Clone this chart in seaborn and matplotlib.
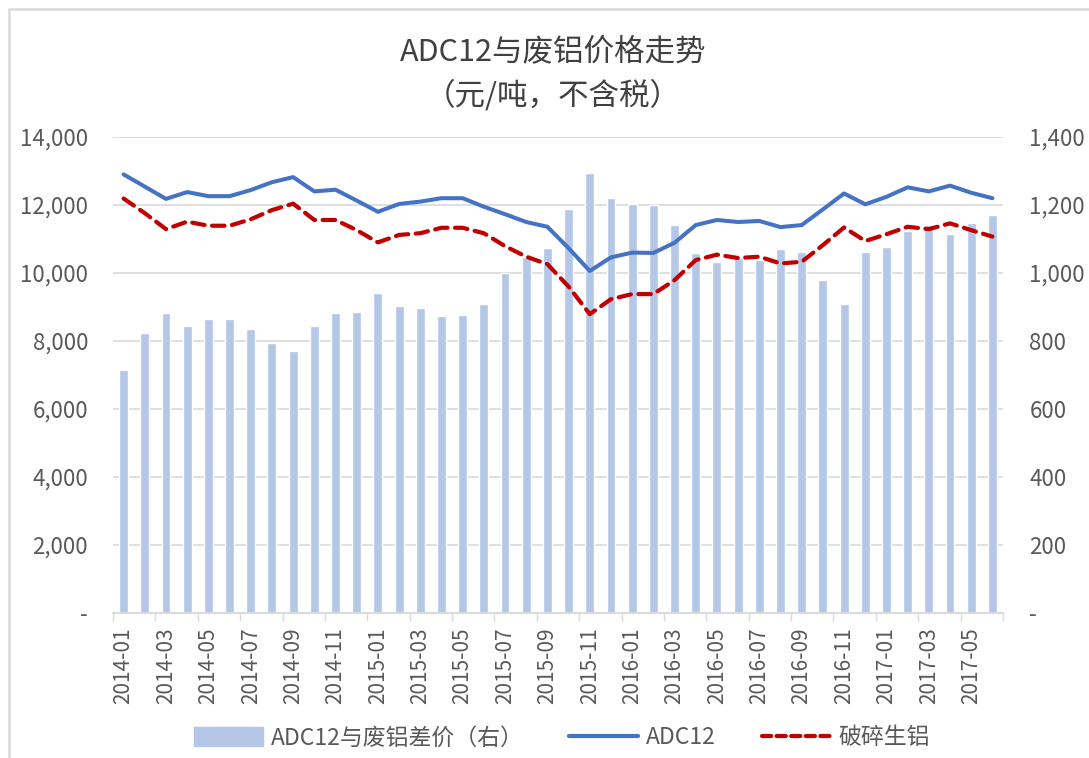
import numpy as np
import pandas as pd
import matplotlib
matplotlib.use("Agg")
import matplotlib.pyplot as plt
import matplotlib.patches as mpatches
from matplotlib.lines import Line2D
from matplotlib.ticker import FuncFormatter, FixedLocator
import seaborn as sns

# ---------------- data ----------------
months = [f"{y}-{m:02d}" for y in (2014, 2015, 2016, 2017) for m in range(1, 13)][:42]

spread = [715, 824, 881, 843, 866, 866, 835, 794, 771, 843, 881, 884,
          941, 904, 896, 873, 877, 908, 1001, 1048, 1073, 1187, 1293, 1221,
          1202, 1199, 1141, 1058, 1032, 1043, 1038, 1070, 1062, 979, 908, 1062,
          1077, 1123, 1141, 1116, 1146, 1172]

adc12 = [12900, 12540, 12180, 12380, 12260, 12260, 12440, 12670, 12820, 12400, 12450, 12130,
         11800, 12030, 12100, 12200, 12200, 11950, 11730, 11500, 11360, 10730, 10060, 10460,
         10600, 10590, 10890, 11410, 11560, 11500, 11530, 11350, 11410, 11870, 12340, 12020,
         12240, 12520, 12400, 12570, 12360, 12200]

scrap = [12190, 11760, 11290, 11510, 11390, 11390, 11580, 11850, 12040, 11560, 11560, 11260,
         10900, 11120, 11170, 11330, 11330, 11170, 10790, 10480, 10260, 9600, 8790, 9230,
         9380, 9380, 9790, 10380, 10540, 10440, 10480, 10280, 10330, 10820, 11340, 10940,
         11140, 11360, 11290, 11460, 11260, 11070]

series_names = ["ADC12与废铝差价（右）", "ADC12", "破碎生铝"]
title_lines = ["ADC12与废铝价格走势", "（元/吨，不含税）"]

# ---------------- style ----------------
sns.set_style("white")
plt.rcParams["font.family"] = ["Noto Sans CJK SC", "DejaVu Sans"]
plt.rcParams["axes.unicode_minus"] = False

BAR_C = "#B4C7E7"
BLUE = "#4472C4"
RED = "#C00000"
GRID = "#D9D9D9"
TXT = "#595959"

df = pd.DataFrame({"month": months, "pos": np.arange(len(months)),
                   "spread": spread, "adc12": adc12, "scrap": scrap})

fig = plt.figure(figsize=(10.89, 7.58), dpi=100)
fig.patch.set_facecolor("white")
L, R, T, B = 113, 1003, 137, 613
W, H = 1089, 758
ax = fig.add_axes([L / W, 1 - B / H, (R - L) / W, (B - T) / H])
ax2 = ax.twinx()

# bars on right axis
sns.barplot(data=df, x="pos", y="spread", ax=ax2, color=BAR_C, width=0.42,
            saturation=1, native_scale=True)
# lines on left axis
sns.lineplot(data=df, x="pos", y="adc12", ax=ax, color=BLUE, linewidth=2.9,
             solid_capstyle="round", solid_joinstyle="round")
sns.lineplot(data=df, x="pos", y="scrap", ax=ax, color=RED, linewidth=3.0)
ax.lines[-1].set_dashes([3.0, 1.8])
ax.lines[-1].set_dash_capstyle("round")

ax.set_zorder(2)
ax2.set_zorder(1)
ax.patch.set_visible(False)

ax.set_ylim(0, 14000)
ax2.set_ylim(0, 1400)
ax.set_xlim(-0.5, len(months) - 0.5)

ax.set_yticks(np.arange(0, 14001, 2000))
ax2.set_yticks(np.arange(0, 1401, 200))

def fmt(v, p):
    return "-" if v == 0 else f"{v:,.0f}"

ax.yaxis.set_major_formatter(FuncFormatter(fmt))
ax2.yaxis.set_major_formatter(FuncFormatter(fmt))

ax2.grid(axis="y", color=GRID, linewidth=1.2)
ax2.grid(axis="x", visible=False)
ax.grid(False)
ax2.set_axisbelow(True)

ax.set_xticks(np.arange(0, len(months), 2))
ax.set_xticklabels(months[::2], rotation=90)
ax.xaxis.set_minor_locator(FixedLocator(np.arange(-0.5, len(months), 2)))
ax.tick_params(axis="x", which="major", length=0, pad=10.5, labelsize=15, labelcolor=TXT)
ax.tick_params(axis="x", which="minor", length=5.5, width=1, color=GRID, bottom=True)
ax.tick_params(axis="y", length=0, pad=18, labelsize=16, labelcolor=TXT)
ax2.tick_params(axis="y", length=0, pad=19, labelsize=16, labelcolor=TXT)

for s in ["top", "left", "right"]:
    ax.spines[s].set_visible(False)
ax.spines["bottom"].set_color(GRID)
ax.spines["bottom"].set_linewidth(1.3)
for s in ax2.spines.values():
    s.set_visible(False)

for a in (ax, ax2):
    a.set_xlabel("")
    a.set_ylabel("")

# titles
fig.text(0.508, 1 - 52 / H, title_lines[0], ha="center", va="center",
         fontsize=22, color="#404040")
fig.text(0.508, 1 - 96 / H, title_lines[1], ha="center", va="center",
         fontsize=22, color="#404040")

# legend
handles = [mpatches.Patch(color=BAR_C),
           Line2D([], [], color=BLUE, lw=3.0, solid_capstyle="round"),
           Line2D([], [], color=RED, lw=3.0, dashes=[2.2, 1.3], dash_capstyle="round")]
leg = fig.legend(handles, series_names, loc="center", bbox_to_anchor=(0.516, 1 - 738 / H),
                 ncol=3, frameon=False, fontsize=16.5, handlelength=3.0,
                 handleheight=0.9, handletextpad=0.35, columnspacing=2.0)
for t in leg.get_texts():
    t.set_color(TXT)

# chart border
fig.patches.append(mpatches.Rectangle((9 / W, -0.05), 1.2, 1 - 9 / H + 0.05,
                                      transform=fig.transFigure, fill=False,
                                      edgecolor=GRID, linewidth=1.8, zorder=0))

fig.savefig("out.png", dpi=100)
